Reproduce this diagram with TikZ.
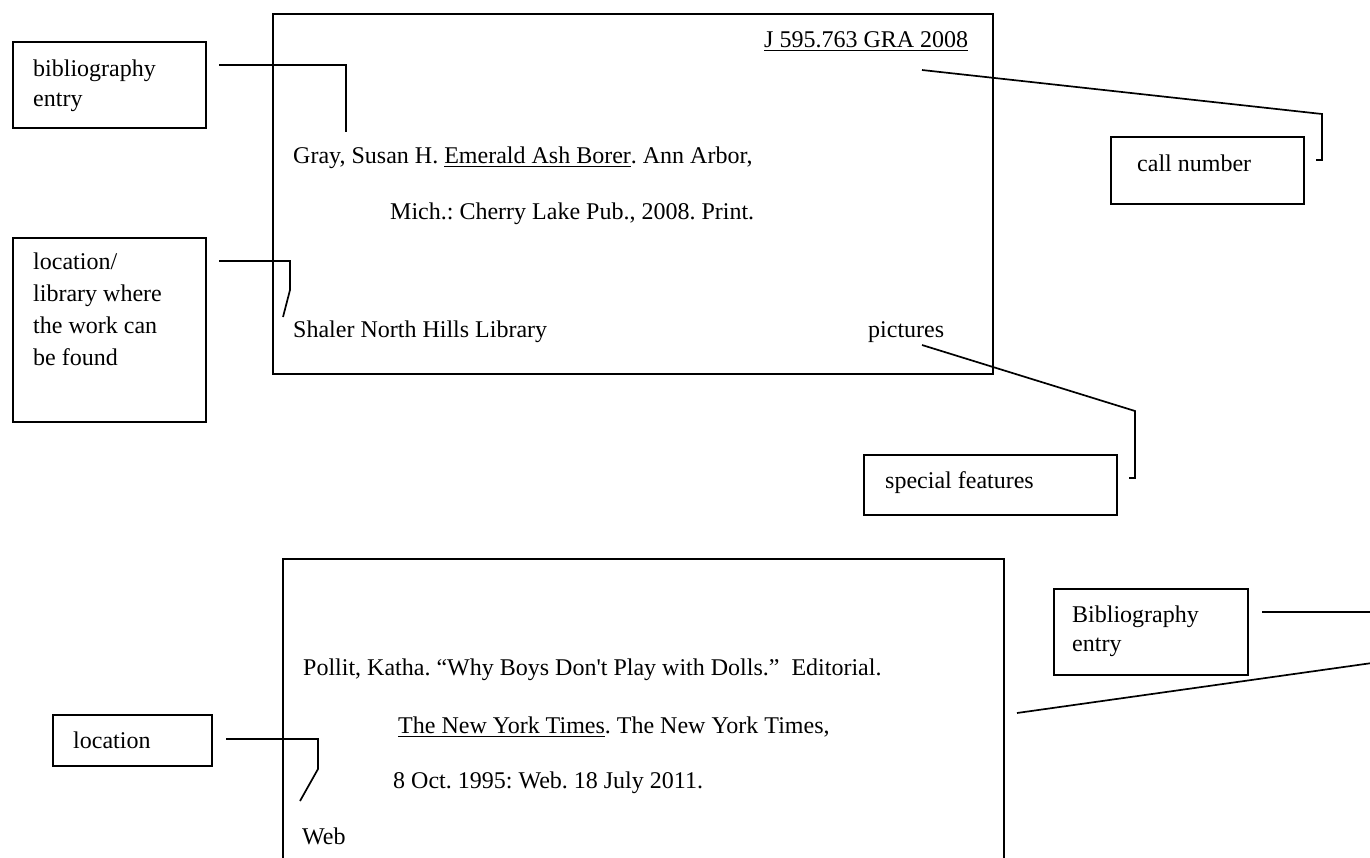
\documentclass[tikz,border=0pt]{standalone}
\usepackage{fontspec}
\setmainfont{Liberation Serif}[Ligatures=TeXOff]
\newcommand\myul[1]{\setbox0\hbox{#1}\rlap{\rule[-4pt]{\wd0}{1.4pt}}\box0}
\tikzset{
  box/.style={draw, line width=1.7pt, rectangle, inner sep=0pt, anchor=north west},
  txt/.style={anchor=base west, inner sep=0pt, font=\fontsize{24}{29}\selectfont\frenchspacing},
  conn/.style={line width=1.7pt},
}
\begin{document}
\frenchspacing
\begin{tikzpicture}[x=1pt,y=-1pt]
\useasboundingbox[fill=white] (0,0) rectangle (1370,857);

% ---------- top card ----------
\node[box, minimum width=720pt, minimum height=360pt] (card1) at (272,13) {};
\node[txt] (callno) at (764,47) {\myul{J 595.763 GRA 2008}};
\node[txt] (gray) at (293,163) {Gray, Susan H. \myul{Emerald Ash Borer}. Ann Arbor,};
\node[txt] (mich) at (390,219) {Mich.: Cherry Lake Pub., 2008. Print.};
\node[txt] (shaler) at (293,337) {Shaler North Hills Library};
\node[txt] (pics) at (868,337) {pictures};

% ---------- labels top ----------
\node[box, minimum width=193pt, minimum height=86pt] (bibbox) at (12,41) {};
\node[txt] (bibA) at (33,76) {bibliography};
\node[txt] (bibB) at (33,106) {entry};

\node[box, minimum width=193pt, minimum height=184pt] (locbox) at (12,237) {};
\node[txt] (locA) at (33,269) {location/};
\node[txt] (locB) at (33,301) {library where};
\node[txt] (locC) at (33,333) {the work can};
\node[txt] (locD) at (33,365) {be found};

\node[box, minimum width=193pt, minimum height=67pt] (callbox) at (1110,136) {};
\node[txt] (callT) at (1137,171) {call number};

\node[box, minimum width=253pt, minimum height=60pt] (specbox) at (863,454) {};
\node[txt] (specT) at (885,488) {special features};

% ---------- connectors top ----------
\coordinate (c1a) at (219,65);  \coordinate (c1b) at (346,65);  \coordinate (c1c) at (346,132);
\draw[conn] (c1a) -- (c1b) -- (c1c);
\coordinate (c2a) at (219,261); \coordinate (c2b) at (290,261); \coordinate (c2c) at (290,290); \coordinate (c2d) at (283,317);
\draw[conn] (c2a) -- (c2b) -- (c2c) -- (c2d);
\coordinate (c3a) at (922,70);  \coordinate (c3b) at (1322,114); \coordinate (c3c) at (1322,160); \coordinate (c3d) at (1316,160);
\draw[conn] (c3a) -- (c3b) -- (c3c) -- (c3d);
\coordinate (c4a) at (922,345); \coordinate (c4b) at (1135,411); \coordinate (c4c) at (1135,478); \coordinate (c4d) at (1129,478);
\draw[conn] (c4a) -- (c4b) -- (c4c) -- (c4d);

% ---------- bottom card ----------
\draw[conn] (283,860) -- (283,559) -- (1004,559) -- (1004,860);
\node[txt] (pollit) at (303,675) {Pollit, Katha. “Why Boys Don't Play with Dolls.”\ \ Editorial.};
\node[txt] (nyt) at (398,733) {\myul{The New York Times}. The New York Times,};
\node[txt] (oct) at (393,788) {8 Oct. 1995: Web. 18 July 2011.};
\node[txt] (web) at (302,844) {Web};

\node[box, minimum width=159pt, minimum height=51pt] (loc2box) at (52,714) {};
\node[txt] (loc2T) at (73,748) {location};

\node[box, minimum width=194pt, minimum height=86pt] (bib2box) at (1053,588) {};
\node[txt] (bib2A) at (1072,622) {Bibliography};
\node[txt] (bib2B) at (1072,651) {entry};

% ---------- connectors bottom ----------
\coordinate (c5a) at (226,739); \coordinate (c5b) at (318,739); \coordinate (c5c) at (318,769); \coordinate (c5d) at (300,801);
\draw[conn] (c5a) -- (c5b) -- (c5c) -- (c5d);
\coordinate (c6a) at (1262,612); \coordinate (c6b) at (1372,612);
\draw[conn] (c6a) -- (c6b);
\coordinate (c7a) at (1017,713); \coordinate (c7b) at (1372,663);
\draw[conn] (c7a) -- (c7b);
\end{tikzpicture}
\end{document}
